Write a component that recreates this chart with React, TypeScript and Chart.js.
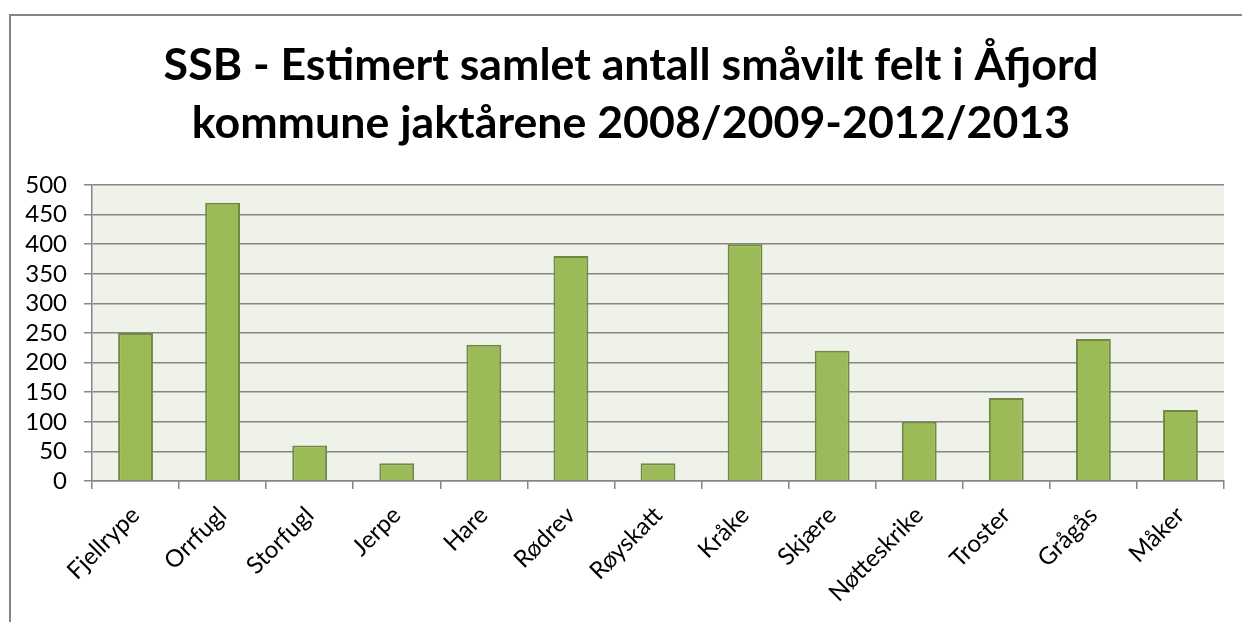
import React, { useEffect, useRef } from "react";
import { Chart, registerables } from "chart.js";

Chart.register(...registerables);

const titleLines = [
  "SSB - Estimert samlet antall småvilt felt i Åfjord",
  "kommune jaktårene 2008/2009-2012/2013",
];
const categories = [
  "Fjellrype", "Orrfugl", "Storfugl", "Jerpe", "Hare", "Rødrev", "Røyskatt",
  "Kråke", "Skjære", "Nøtteskrike", "Troster", "Grågås", "Måker",
];
const values = [250, 470, 60, 30, 230, 380, 30, 400, 220, 100, 140, 240, 120];
const yMin = 0;
const yMax = 500;
const yStep = 50;

const plotBg = {
  id: "plotBg",
  beforeDraw(chart: any) {
    const { ctx, chartArea } = chart;
    ctx.save();
    ctx.fillStyle = "#EFF2E8";
    ctx.fillRect(chartArea.left, chartArea.top, chartArea.right - chartArea.left, chartArea.bottom - chartArea.top);
    ctx.restore();
  },
};

const titlePlugin = {
  id: "customTitle",
  afterDraw(chart: any) {
    const { ctx } = chart;
    ctx.save();
    ctx.fillStyle = "#000";
    ctx.font = "bold 44.7px Lato";
    ctx.textAlign = "center";
    ctx.textBaseline = "alphabetic";
    const baselines = [80, 138];
    titleLines.forEach((t, i) => ctx.fillText(t, 631, baselines[i]));
    ctx.restore();
  },
};

export default function App() {
  const ref = useRef<HTMLCanvasElement>(null);
  useEffect(() => {
    if (!ref.current) return;
    const chart = new Chart(ref.current, {
      type: "bar",
      data: {
        labels: categories,
        datasets: [
          {
            data: values,
            backgroundColor: "#9BBB59",
            borderColor: "#71893F",
            borderWidth: 2,
            barPercentage: 0.4,
            categoryPercentage: 1,
          },
        ],
      },
      options: {
        animation: false,
        responsive: false,
        maintainAspectRatio: false,
        layout: { padding: { left: 0, right: 18, top: 185, bottom: 0 } },
        plugins: {
          legend: { display: false },
          tooltip: { enabled: false },
          title: { display: false },
        },
        scales: {
          x: {
            afterFit: (s: any) => { s.height = 141; },
            grid: {
              offset: true,
              drawOnChartArea: false,
              drawTicks: true,
              tickLength: 8,
              color: "#868686",
              lineWidth: 1.5,
            },
            border: { display: true, color: "#868686", width: 1.5 },
            ticks: {
              color: "#000",
              font: { family: "Lato", size: 24 },
              maxRotation: 45,
              minRotation: 45,
              padding: 12,
              autoSkip: false,
            },
          },
          y: {
            min: yMin,
            max: yMax,
            afterFit: (s: any) => { s.width = 92; },
            grid: {
              color: "#868686",
              lineWidth: 1.5,
              drawTicks: true,
              tickLength: 8,
            },
            border: { display: true, color: "#868686", width: 1.5 },
            ticks: {
              stepSize: yStep,
              autoSkip: false,
              maxTicksLimit: 20,
              color: "#000",
              font: { family: "Lato", size: 24, lineHeight: 1 },
              padding: 17,
            },
          },
        },
      },
      plugins: [plotBg, titlePlugin],
    });
    return () => chart.destroy();
  }, []);
  return (
    <div style={{ position: "absolute", left: 0, top: 0, width: 1242, height: 622, overflow: "hidden", background: "#fff" }}>
      <div style={{ position: "absolute", left: 9, top: 14, width: 1300, height: 700, border: "2px solid #868686" }} />
      <canvas ref={ref} width={1242} height={622} style={{ position: "absolute", left: 0, top: 0 }} />
    </div>
  );
}
